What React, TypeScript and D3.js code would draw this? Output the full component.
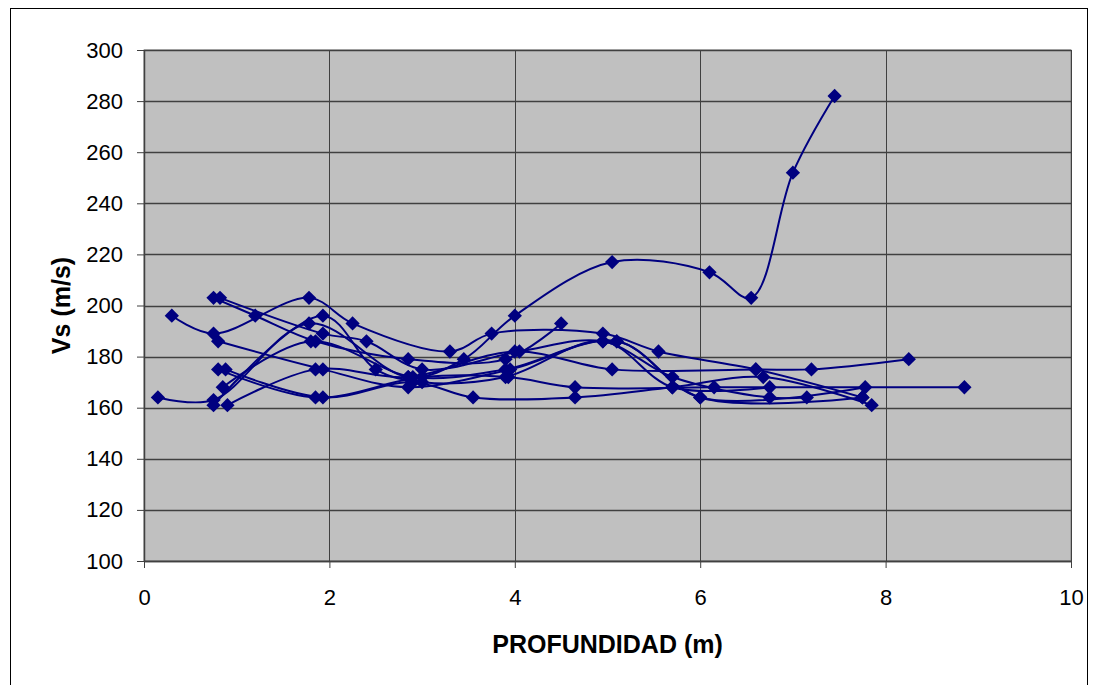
import React, {useEffect, useRef} from "react";
import * as d3 from "d3";

// depth (m) / Vs (m/s) pairs, one array per sounding
const s1 = [[0.15, 164], [0.75, 163], [1.78, 193], [2.85, 172], [3.45, 179], [4.0, 196], [5.05, 217], [6.1, 213], [6.55, 203], [7.0, 252], [7.45, 282]];
const s2 = [[0.3, 196], [0.75, 189], [1.78, 203], [2.25, 193], [3.3, 182], [3.75, 189], [4.95, 189], [5.55, 182], [6.6, 175], [7.75, 164]];
const s3 = [[0.75, 203], [1.2, 196], [1.85, 186], [2.85, 179], [3.9, 179], [4.5, 193]];
const s4 = [[0.82, 203], [1.93, 189], [2.4, 186], [3.0, 175], [4.05, 182], [4.95, 186], [5.7, 172], [6.75, 164], [7.15, 164]];
const s5 = [[0.8, 186], [1.93, 175], [2.85, 168], [3.95, 175], [5.1, 186], [6.0, 164], [7.78, 168]];
const s6 = [[0.8, 175], [1.85, 164], [3.0, 172], [3.93, 172], [4.65, 168], [6.15, 168], [8.85, 168]];
const s7 = [[0.88, 175], [1.93, 164], [2.9, 170], [3.55, 164], [4.65, 164], [5.7, 168], [6.68, 172], [7.85, 161]];
const s8 = [[0.9, 161], [1.85, 175], [2.85, 172], [4.0, 182], [5.05, 175], [6.6, 175], [7.2, 175], [8.25, 179]];
const s9 = [[0.75, 161], [1.93, 196], [2.5, 175], [3.0, 170], [3.9, 172], [4.95, 186], [5.7, 168], [6.75, 168]];
const s10 = [[0.85, 168], [1.8, 186], [2.9, 172], [3.9, 175], [5.1, 186], [6.0, 164], [7.75, 164]];
const series = [s1, s2, s3, s4, s5, s6, s7, s8, s9, s10];

const xTicks = [0, 2, 4, 6, 8, 10];
const yTicks = [100, 120, 140, 160, 180, 200, 220, 240, 260, 280, 300];

const font = "Liberation Sans, Arial, sans-serif";

function drawChart(node: SVGSVGElement) {
  const svg = d3.select(node);
  svg.selectAll("*").remove();
  const margin = {top: 50, right: 26, bottom: 124, left: 144},
    width = 1097 - margin.left - margin.right,
    height = 685 - margin.top - margin.bottom;

  svg
    .append("rect")
    .attr("x", 10.5)
    .attr("y", 8.5)
    .attr("width", 1077)
    .attr("height", 690)
    .attr("fill", "white")
    .attr("stroke", "black");

  const g = svg.append("g").attr("transform", `translate(${margin.left},${margin.top})`);

  const x = d3.scaleLinear().domain([0, 10]).range([0, width]);
  const y = d3.scaleLinear().domain([100, 300]).range([height, 0]);

  g.append("rect")
    .attr("width", width)
    .attr("height", height)
    .attr("fill", "#c0c0c0")
    .attr("stroke", "#808080");

  // grid
  g.selectAll(".hgrid")
    .data(yTicks)
    .enter()
    .append("line")
    .attr("x1", 0)
    .attr("x2", width)
    .attr("y1", (d) => Math.round(y(d)) + 0.5)
    .attr("y2", (d) => Math.round(y(d)) + 0.5)
    .attr("stroke", "#404040")
    .attr("stroke-width", 1.5);
  g.selectAll(".vgrid")
    .data(xTicks)
    .enter()
    .append("line")
    .attr("y1", 0)
    .attr("y2", height)
    .attr("x1", (d) => Math.round(x(d)) + 0.5)
    .attr("x2", (d) => Math.round(x(d)) + 0.5)
    .attr("stroke", "#404040")
    .attr("stroke-width", 1);

  const xAxis = g
    .append("g")
    .attr("transform", `translate(0,${height})`)
    .call(d3.axisBottom(x).tickValues(xTicks).tickSize(7).tickPadding(21).tickSizeOuter(0));
  const yAxis = g.append("g").call(d3.axisLeft(y).tickValues(yTicks).tickSize(7).tickPadding(14).tickSizeOuter(0));
  [xAxis, yAxis].forEach((a) => {
    a.select(".domain").attr("stroke", "#404040").attr("stroke-width", 1.5);
    a.selectAll("line").attr("stroke", "#404040");
    a.selectAll("text").attr("font-family", font).attr("font-size", 22).attr("fill", "black");
  });

  const line = d3
    .line<number[]>()
    .x((d) => x(d[0]))
    .y((d) => y(d[1]))
    .curve(d3.curveCatmullRom.alpha(0.5));

  series.forEach((s) => {
    g.append("path")
      .attr("d", line(s))
      .attr("fill", "none")
      .attr("stroke", "#000080")
      .attr("stroke-width", 2);
  });

  const diamond = d3.symbol().type(d3.symbolDiamond2).size(130);
  series.forEach((s) => {
    g.selectAll(null)
      .data(s)
      .enter()
      .append("path")
      .attr("d", diamond)
      .attr("transform", (d) => `translate(${x(d[0])},${y(d[1])})`)
      .attr("fill", "#000080");
  });

  svg
    .append("text")
    .attr("x", margin.left + width / 2)
    .attr("y", 653)
    .attr("text-anchor", "middle")
    .attr("font-family", font)
    .attr("font-weight", "bold")
    .attr("font-size", 25)
    .text("PROFUNDIDAD (m)");

  svg
    .append("text")
    .attr("transform", `translate(70,${margin.top + height / 2}) rotate(-90)`)
    .attr("text-anchor", "middle")
    .attr("font-family", font)
    .attr("font-weight", "bold")
    .attr("font-size", 25)
    .text("Vs (m/s)");
}

export default function App() {
  const ref = useRef<SVGSVGElement>(null);
  useEffect(() => {
    if (ref.current) drawChart(ref.current);
  }, []);
  return (
    <svg
      ref={ref}
      width={1097}
      height={685}
      style={{position: "absolute", left: 0, top: 0}}
    />
  );
}
